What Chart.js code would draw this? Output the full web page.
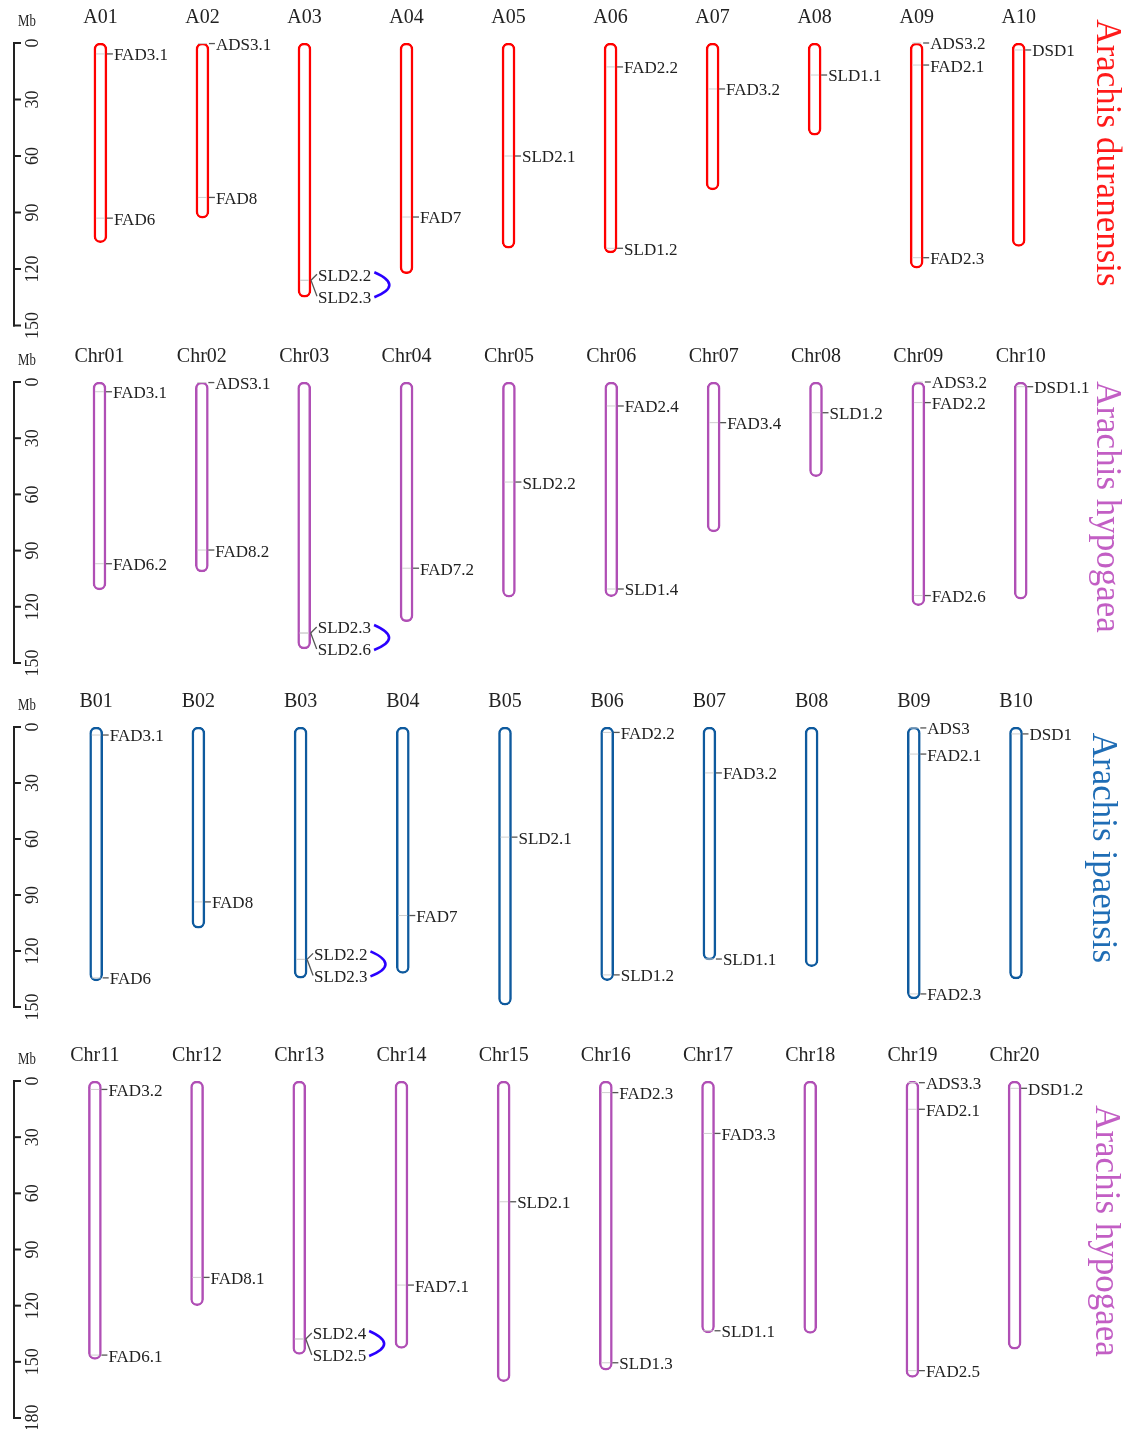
<!DOCTYPE html>
<html>
<head>
<meta charset="utf-8">
<script src="https://cdn.jsdelivr.net/npm/chart.js@4.4.1/dist/chart.umd.min.js"></script>
<style>
body { margin: 0; background: #fff; }
#wrap { position: relative; width: 1126px; height: 1429px; }
canvas { position: absolute; left: 0; }
</style>
</head>
<body>
<div id="wrap">
  <canvas id="p1" width="1126" height="340" style="top:0px"></canvas>
  <canvas id="p2" width="1126" height="345" style="top:340px"></canvas>
  <canvas id="p3" width="1126" height="355" style="top:685px"></canvas>
  <canvas id="p4" width="1126" height="389" style="top:1040px"></canvas>
</div>
<script>
// tick labels (Mb)
const ticks150 = [0, 30, 60, 90, 120, 150];
const ticks180 = [0, 30, 60, 90, 120, 150, 180];

// Arachis duranensis
const chrDur = ["A01", "A02", "A03", "A04", "A05", "A06", "A07", "A08", "A09", "A10"];
const lenDur = [106, 93, 135, 122.5, 109, 111.5, 78, 49, 119.5, 108];
const genesDur = [
    [0, "FAD3.1", 5.8], [0, "FAD6", 93],
    [1, "ADS3.1", 0.3], [1, "FAD8", 82],
    [2, "SLD2.2", 126], [2, "SLD2.3", 126],
    [3, "FAD7", 92.4],
    [4, "SLD2.1", 60],
    [5, "FAD2.2", 12.7], [5, "SLD1.2", 109],
    [6, "FAD3.2", 24.4],
    [7, "SLD1.1", 17],
    [8, "ADS3.2", 0], [8, "FAD2.1", 11.7], [8, "FAD2.3", 114],
    [9, "DSD1", 3.7]
];
const linksDur = [["SLD2.2", "SLD2.3"]];

// Arachis hypogaea, Chr01-Chr10
const chrHypA = ["Chr01", "Chr02", "Chr03", "Chr04", "Chr05", "Chr06", "Chr07", "Chr08", "Chr09", "Chr10"];
const lenHypA = [111, 101.4, 142.5, 128, 114.8, 114.6, 80, 50.5, 119.4, 115.9];
const genesHypA = [
    [0, "FAD3.1", 5.2], [0, "FAD6.2", 97],
    [1, "ADS3.1", 0.3], [1, "FAD8.2", 89.7],
    [2, "SLD2.3", 134], [2, "SLD2.6", 134],
    [3, "FAD7.2", 99.4],
    [4, "SLD2.2", 53.4],
    [5, "FAD2.4", 12.8], [5, "SLD1.4", 110.5],
    [6, "FAD3.4", 21.7],
    [7, "SLD1.2", 16.4],
    [8, "ADS3.2", 0], [8, "FAD2.2", 11], [8, "FAD2.6", 114],
    [9, "DSD1.1", 2.5]
];
const linksHypA = [["SLD2.3", "SLD2.6"]];

// Arachis ipaensis
const chrIpa = ["B01", "B02", "B03", "B04", "B05", "B06", "B07", "B08", "B09", "B10"];
const lenIpa = [136, 107.8, 134.6, 132, 149, 135.9, 124.8, 128.4, 145.7, 135];
const genesIpa = [
    [0, "FAD3.1", 4.3], [0, "FAD6", 134.4],
    [1, "FAD8", 93.7],
    [2, "SLD2.2", 124.5], [2, "SLD2.3", 124.5],
    [3, "FAD7", 101],
    [4, "SLD2.1", 59],
    [5, "FAD2.2", 2.9], [5, "SLD1.2", 132.8],
    [6, "FAD3.2", 24.6], [6, "SLD1.1", 124.3],
    [8, "ADS3", 0.5], [8, "FAD2.1", 14.5], [8, "FAD2.3", 143],
    [9, "DSD1", 3.7]
];
const linksIpa = [["SLD2.2", "SLD2.3"]];

// Arachis hypogaea, Chr11-Chr20
const chrHypB = ["Chr11", "Chr12", "Chr13", "Chr14", "Chr15", "Chr16", "Chr17", "Chr18", "Chr19", "Chr20"];
const lenHypB = [148.7, 120, 146, 142.8, 160.6, 154.4, 134.5, 134.8, 158.3, 143.3];
const genesHypB = [
    [0, "FAD3.2", 4.5], [0, "FAD6.1", 146.4],
    [1, "FAD8.1", 104.9],
    [2, "SLD2.4", 137.8], [2, "SLD2.5", 137.8],
    [3, "FAD7.1", 109],
    [4, "SLD2.1", 64.5],
    [5, "FAD2.3", 6.2], [5, "SLD1.3", 150.5],
    [6, "FAD3.3", 28], [6, "SLD1.1", 133.4],
    [8, "ADS3.3", 0.9], [8, "FAD2.1", 15.1], [8, "FAD2.5", 154.7],
    [9, "DSD1.2", 3.9]
];
const linksHypB = [["SLD2.4", "SLD2.5"]];

const FONT = "'Liberation Serif', 'DejaVu Serif', serif";
const PURPLE = "#b04fb5";

function line(ctx, x1, y1, x2, y2) {
    ctx.beginPath();
    ctx.moveTo(x1, y1);
    ctx.lineTo(x2, y2);
    ctx.stroke();
}

function mapPlugin(p) {
    return {
        id: "chromMap",
        afterDatasetsDraw(chart) {
            const ctx = chart.ctx;
            const xs = chart.scales.x, ys = chart.scales.y;
            const half = 6.5;
            ctx.save();

            // chromosome names
            ctx.fillStyle = "#222";
            ctx.font = "20px " + FONT;
            ctx.textAlign = "center";
            ctx.textBaseline = "middle";
            p.names.forEach((n, i) => ctx.fillText(n, xs.getPixelForValue(i), ys.top - 25));

            // genes
            const shift = {};
            p.links.forEach(([a, b]) => { shift[a] = -6; shift[b] = 16; });
            const ends = {};
            ctx.font = "17px " + FONT;
            ctx.textAlign = "left";
            p.genes.forEach(([ci, name, pos]) => {
                const cx = xs.getPixelForValue(ci);
                const gy = ys.getPixelForValue(pos);
                const ly = gy + (shift[name] || 0);
                ctx.strokeStyle = "#cfcfcf";
                ctx.lineWidth = 1;
                line(ctx, cx - half + 2, gy, cx + half - 2, gy);
                ctx.strokeStyle = "#555";
                ctx.lineWidth = 1.3;
                line(ctx, cx + half, gy, cx + half + 6, ly);
                ctx.fillStyle = "#222";
                const tx = cx + half + 7;
                ctx.fillText(name, tx, ly + 2);
                ends[name] = { x: tx + ctx.measureText(name).width, y: ly };
            });

            // tandem links
            ctx.strokeStyle = "#2a00ff";
            ctx.lineWidth = 2.6;
            p.links.forEach(([a, b]) => {
                const A = ends[a], B = ends[b];
                const x0 = Math.max(A.x, B.x) + 3;
                ctx.beginPath();
                ctx.moveTo(x0, A.y - 2);
                ctx.quadraticCurveTo(x0 + 30, (A.y + B.y) / 2, x0, B.y + 1);
                ctx.stroke();
            });

            // Mb axis
            const ax = 14;
            ctx.strokeStyle = "#222";
            ctx.lineWidth = 2;
            line(ctx, ax, ys.getPixelForValue(0) - 1, ax, ys.getPixelForValue(p.max) + 1);
            ctx.fillStyle = "#222";
            ctx.font = "18px " + FONT;
            ctx.textAlign = "center";
            p.ticks.forEach(t => {
                const ty = ys.getPixelForValue(t);
                line(ctx, ax - 1, ty, ax + 7, ty);
                ctx.save();
                ctx.translate(33, ty);
                ctx.rotate(-Math.PI / 2);
                ctx.fillText(String(t), 0, 0);
                ctx.restore();
            });
            ctx.save();
            ctx.translate(27, ys.top - 21);
            ctx.scale(0.8, 1);
            ctx.font = "16px " + FONT;
            ctx.fillText("Mb", 0, 0);
            ctx.restore();

            // species
            ctx.save();
            ctx.translate(p.speciesX, p.speciesY);
            ctx.rotate(Math.PI / 2);
            ctx.font = "35px " + FONT;
            ctx.fillStyle = p.speciesColor;
            ctx.fillText(p.species, 0, 0);
            ctx.restore();

            ctx.restore();
        }
    };
}

function makePanel(id, p) {
    const canvas = document.getElementById(id);
    new Chart(canvas.getContext("2d"), {
        type: "bar",
        data: {
            labels: p.names,
            datasets: [{
                data: p.lengths.map(l => [0, l]),
                backgroundColor: "#fff",
                borderColor: p.color,
                borderWidth: 2.5,
                borderSkipped: false,
                borderRadius: 7,
                barThickness: 13
            }]
        },
        options: {
            responsive: false,
            animation: false,
            devicePixelRatio: 1,
            layout: { padding: p.pad },
            plugins: {
                legend: { display: false },
                tooltip: { enabled: false }
            },
            scales: {
                x: { display: false },
                y: { display: false, min: 0, max: p.max, reverse: true }
            }
        },
        plugins: [mapPlugin(p)]
    });
}

makePanel("p1", {
    names: chrDur, lengths: lenDur, genes: genesDur, links: linksDur,
    ticks: ticks150, max: 150, color: "#ff0000",
    species: "Arachis duranensis", speciesColor: "#ff1a1a", speciesX: 1106, speciesY: 153,
    pad: { left: 49.4, right: 1126 - 1069.7, top: 43, bottom: 14.5 }
});
makePanel("p2", {
    names: chrHypA, lengths: lenHypA, genes: genesHypA, links: linksHypA,
    ticks: ticks150, max: 150, color: PURPLE,
    species: "Arachis hypogaea", speciesColor: "#c25ec4", speciesX: 1106, speciesY: 167,
    pad: { left: 48.3, right: 1126 - 1071.9, top: 42, bottom: 22 }
});
makePanel("p3", {
    names: chrIpa, lengths: lenIpa, genes: genesIpa, links: linksIpa,
    ticks: ticks150, max: 150, color: "#0e5a9e",
    species: "Arachis ipaensis", speciesColor: "#1f6db5", speciesX: 1102, speciesY: 163,
    pad: { left: 45.1, right: 1126 - 1067.1, top: 42, bottom: 33 }
});
makePanel("p4", {
    names: chrHypB, lengths: lenHypB, genes: genesHypB, links: linksHypB,
    ticks: ticks180, max: 180, color: PURPLE,
    species: "Arachis hypogaea", speciesColor: "#c25ec4", speciesX: 1105, speciesY: 191,
    pad: { left: 43.8, right: 1126 - 1065.7, top: 41, bottom: 11 }
});
</script>
</body>
</html>
